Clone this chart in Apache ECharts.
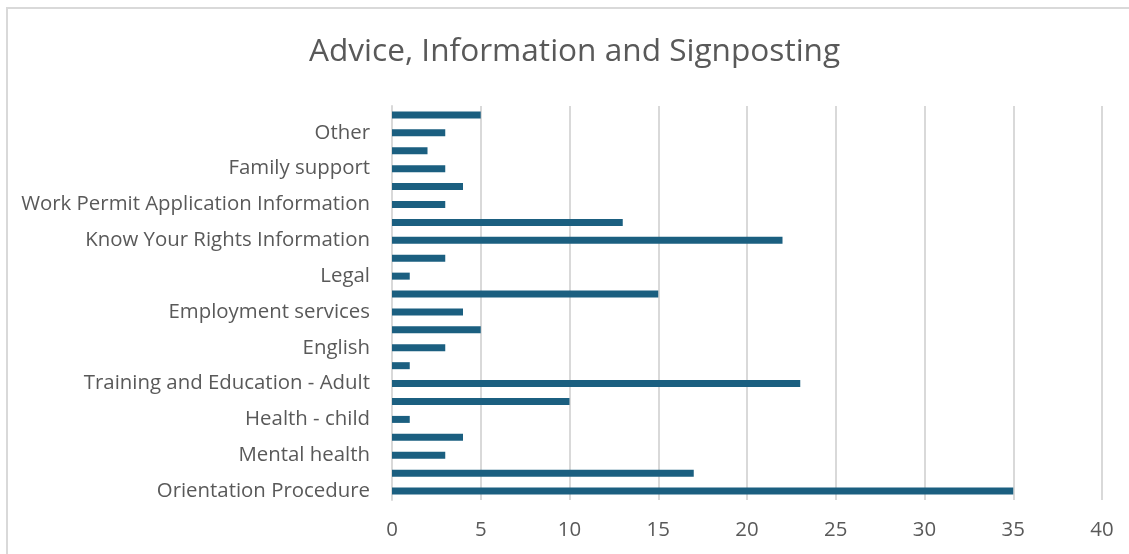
<!DOCTYPE html>
<html><head><meta charset="utf-8">
<script src="https://cdn.jsdelivr.net/npm/echarts@6/dist/echarts.min.js"></script>
<style>
html,body{margin:0;padding:0;background:#fff;overflow:hidden;}
#frame{position:absolute;left:6px;top:7px;width:1200px;height:600px;border:2px solid #d9d9d9;box-sizing:border-box;}
#c{position:absolute;left:0;top:0;width:1129px;height:554px;}
</style></head>
<body>
<div id="frame"></div>
<div id="c"></div>
<script>
// bottom to top
const categories = [
  "Orientation Procedure", "Housing", "Mental health", "Health - adult",
  "Health - child", "Training and Education - Child", "Training and Education - Adult", "Childcare",
  "English", "Welfare", "Employment services", "Financial support",
  "Legal", "Immigration", "Know Your Rights Information", "Community services",
  "Work Permit Application Information", "Transport", "Family support", "Social activities",
  "Other", "Referral"
];
const values = [35, 17, 3, 4, 1, 10, 23, 1, 3, 5, 4, 15, 1, 3, 22, 13, 3, 4, 3, 2, 3, 5];
const xTicks = [0, 5, 10, 15, 20, 25, 30, 35, 40];

const FONT = '"Open Sans"';
const chart = echarts.init(document.getElementById('c'), null, {renderer:'canvas'});
chart.setOption({
  animation:false,
  title:{text:'Advice, Information and Signposting', left:304, top:31,
    textStyle:{fontFamily:FONT, fontSize:31.6, fontWeight:'normal', color:'#595959'}},
  grid:{left:392, right:27, top:106, bottom:54, containLabel:false},
  xAxis:{type:'value', min:xTicks[0], max:xTicks[xTicks.length-1], interval:5,
    axisLine:{show:false}, axisTick:{show:false},
    splitLine:{show:true, lineStyle:{color:'#d9d9d9', width:2}},
    axisLabel:{fontFamily:FONT, fontSize:20.4, color:'#595959', margin:20}},
  yAxis:{type:'category', data:categories,
    axisLine:{show:true, lineStyle:{color:'#d9d9d9', width:2}},
    axisTick:{show:false},
    axisLabel:{interval:1, fontFamily:FONT, fontSize:20.4, color:'#595959', margin:22,
      showMinLabel:true}},
  series:[{type:'bar', data:values, barWidth:7, itemStyle:{color:'#1b5f80'}, silent:true}]
});
</script>
</body></html>
